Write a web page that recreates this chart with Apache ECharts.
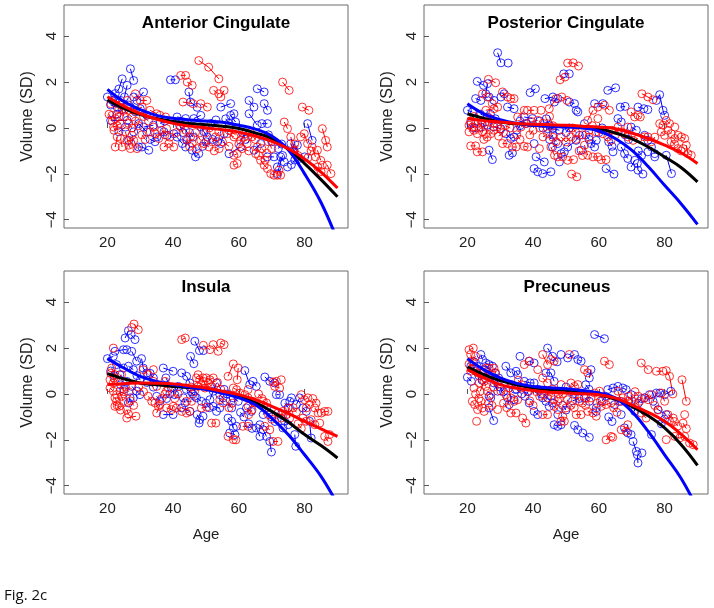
<!DOCTYPE html>
<html>
<head>
<meta charset="utf-8">
<title>Fig. 2c</title>
<script src="https://cdn.jsdelivr.net/npm/echarts@6/dist/echarts.min.js"></script>
<style>
  html, body { margin: 0; padding: 0; background: #fff; }
  #main { width: 714px; height: 608px; }
</style>
</head>
<body>
<div id="main"></div>
<script>
// panel titles, ticks
const panelTitles = ['Anterior Cingulate', 'Posterior Cingulate', 'Insula', 'Precuneus'];
const ageTicks = [20, 40, 60, 80];
const volTicks = [-4, -2, 0, 2, 4];

const fitAges = [20, 25, 30, 35, 40, 45, 50, 55, 60, 65, 70, 75, 80, 85, 90];

// --- Anterior Cingulate ---
const acFitBlack = [1.22, 0.85, 0.58, 0.40, 0.28, 0.20, 0.14, 0.08, -0.02, -0.22, -0.45, -0.92, -1.55, -2.25, -3.0];
const acFitRed = [1.36, 0.95, 0.62, 0.38, 0.20, 0.08, 0.0, -0.08, -0.18, -0.35, -0.58, -0.90, -1.35, -1.92, -2.62];
const acFitBlue = [1.68, 1.15, 0.80, 0.55, 0.42, 0.35, 0.30, 0.25, 0.12, -0.05, -0.35, -0.95, -2.0, -3.25, -4.9];
const acBlue = [
  [[20,1.35]], [[22.4,1.5],[23.5,1.7],[24.5,2.14]], [[27,2.58],[28,2.07]], [[26,1.86],[25.2,1.35]],
  [[28,1.35],[29,1.2],[31,1.57]], [[30,0.84],[32,0.55]], [[21,0.33],[26,0.33]], [[26.5,-0.54]],
  [[29.5,-0.83],[30.5,-0.83],[32.6,-0.97]], [[31,0.04],[34,0.12]], [[23.5,-0.17],[25.5,0.04]],
  [[28,-0.17],[29.5,0.19],[32,-0.17]], [[35.1,-0.39],[37.2,-0.17],[38.2,-0.32]], [[39.2,2.1],[40.7,2.1]],
  [[44.8,1.57],[45.3,1.13],[47.3,0.9]], [[41.2,0.48],[43.8,0.41]], [[46.3,0.41],[48.4,0.55]],
  [[40.2,-0.25],[41.2,-0.4],[42.8,-0.68]], [[43.8,-0.83],[44.3,-0.54]], [[45.8,-0.97],[46.8,-1.26],[47.8,-1.12]],
  [[48.4,0.04],[49.4,-0.17],[50.4,-0.39]], [[54.5,0.91],[57.5,1.06]], [[58.5,0.62],[57.5,0.55],[59,0.26]],
  [[55.5,-0.25],[54.5,-0.68]], [[57,-1.12],[60.5,-0.83]], [[63.1,1.2],[64.6,0.91]], [[65.6,1.71],[67.7,1.57]],
  [[67.7,1.06],[68.7,0.77]], [[63.1,0.62],[65.6,0.12]], [[67,0.19],[68.7,0.19]], [[64.6,-0.97],[66.6,-0.68]],
  [[68.7,-1.26],[70.7,-1.26]], [[71.7,-1.7],[72.7,-1.26],[73.8,-1.48]], [[71.7,-1.99],[73.3,-1.2]],
  [[75.8,-0.68],[76.8,-1.04],[77.8,-0.75]], [[80.9,0.19],[82.3,-0.54]], [[78.3,-1.33],[80,-1.26]], [[74.8,-1.7]],
  [[51.5,0.2],[53,0.35]], [[52,-0.5],[53.5,-0.6]], [[21,1.0],[23,0.9]], [[24,1.2],[26.5,1.0]],
  [[21.5,1.2],[22.5,1.1]], [[23,0.6],[24.5,0.8]], [[27,0.9],[28.5,0.7]], [[33,-0.5],[34.5,-0.6]], [[36,0.2],[37.5,0.3]],
  [[42,0.1],[43,-0.2]], [[45,-0.2],[46,-0.4]], [[49,-0.8],[50,-0.6]], [[56,0.4],[57,0.2]], [[61,-0.2],[62,-0.5]],
  [[69,-0.3],[70,-0.6]], [[72,-0.9],[73,-0.7]], [[76,-1.6],[77,-1.4]]
];
const acRed = [
  [[21,1.06],[22.4,1.2]], [[21.4,0.55],[22.4,0.41],[23.5,0.48]], [[21.9,0.04],[24,0.19]], [[23,-0.39],[22.4,-0.83]],
  [[24.5,-0.83],[24,-0.46]], [[25.5,-0.17],[26.5,-0.75],[27,-0.9]], [[26,-0.54],[28,-0.54]], [[29,-0.9],[27.5,-0.32]],
  [[28.5,1.49],[30,1.2],[32,1.2]], [[28,0.77],[30.6,0.91]], [[27.5,0.48],[25,0.77]], [[23.5,0.84],[26,1.2]],
  [[33,0.77],[35,0.62]], [[36,0.55],[37.7,0.48]], [[34.6,-0.25],[35.6,-0.46]], [[37.2,-0.83],[38.7,-0.68],[40.2,-0.83]],
  [[33,-0.17],[34,0.04]], [[38,-0.03]], [[42.3,2.29],[43.8,2.29]], [[44.3,2.0],[45.8,1.86]], [[43,1.13],[46,1.06]],
  [[48.4,1.06],[50.4,0.91]], [[47.8,2.94],[50.8,2.65],[53.9,2.14]], [[52.3,1.64],[53.9,1.49]], [[55.5,1.64],[54.5,1.35]],
  [[42.3,0.04],[43.8,-0.1],[45.3,-0.39]], [[46.8,-0.2],[48.4,-0.54]], [[49.4,-0.68],[50.9,-0.83]], [[45.8,-0.68],[47.3,-0.9]],
  [[51.9,-0.61],[52.9,-0.39],[53.9,-0.17]], [[56.5,-0.25],[58.5,-0.39]], [[59.5,-1.12],[58.5,-1.19]], [[59.5,-1.55],[58.5,-1.62]],
  [[60.5,-0.54],[62,-0.25]], [[62.5,-0.68],[64,-0.39]], [[65.6,-0.83],[65.1,-1.12]], [[66.6,-1.41],[67.7,-1.62],[68.7,-1.77]],
  [[69.7,-1.99],[70.7,-2.06]], [[71.7,-2.06],[72.7,-2.06],[72.2,-1.84]], [[73.3,2.0],[75.3,1.64]], [[73.8,0.26],[74.8,-0.03]],
  [[75.8,-0.39],[76.8,-0.97]], [[78.8,-0.39],[79.9,-0.25],[80.9,-0.68]], [[79.3,0.91],[81.3,0.77]], [[82.3,-0.83],[83.3,-1.26]],
  [[83.9,-0.97],[84.9,-1.41]], [[85.4,-0.03],[86.4,-0.54],[86.9,-0.83]], [[86.9,-1.62],[88,-1.99]], [[85.4,-1.62]],
  [[55,-0.6],[57,-0.8]], [[61,-0.9],[63,-1.0]], [[66,-1.2],[68,-1.4]],
  [[20.5,0.6],[21.5,0.3]], [[22,-0.1],[23,0.1]], [[24,1.0],[25,0.5]], [[26.5,0.2],[27.5,0.0]], [[28.5,0.3],[29.5,0.1]],
  [[30.5,-0.3],[31.5,-0.5]], [[31,0.5],[32.5,0.3]], [[36.5,-0.1],[37.5,-0.3]], [[39,-0.4],[41,-0.2]], [[44,-0.5],[45,-0.8]],
  [[50,-0.2],[51,0.0]], [[52.5,-1.0],[54,-0.9]], [[57,-0.1],[59,-0.3]], [[60,-0.7],[61.5,-0.4]], [[63.5,-0.2],[65,-0.5]],
  [[67,-0.9],[68.5,-1.1]], [[69,-0.6],[70,-0.9]], [[77,-0.7],[78,-1.2]], [[81,-1.3],[82,-1.0]], [[84,-1.7],[85,-1.9]]
];

// --- Posterior Cingulate ---
const pcFitBlack = [0.62, 0.42, 0.26, 0.18, 0.12, 0.09, 0.07, 0.03, -0.03, -0.22, -0.46, -0.83, -1.26, -1.72, -2.35];
const pcFitRed = [0.41, 0.32, 0.26, 0.20, 0.16, 0.14, 0.12, 0.08, 0.04, -0.03, -0.22, -0.46, -0.75, -1.08, -1.55];
const pcFitBlue = [1.06, 0.62, 0.36, 0.20, 0.12, 0.07, 0.04, 0.0, -0.13, -0.46, -0.97, -1.68, -2.5, -3.3, -4.2];
const pcBlue = [
  [[29.2,3.28],[30.2,2.84]], [[32.4,2.83]], [[23,2.03],[24.9,1.86]], [[26.1,1.93],[25.6,1.49]], [[22.5,1.28],[24.1,1.2]],
  [[26.6,1.35],[28.1,1.2]], [[30.2,1.35],[31.2,1.49]], [[32.2,0.91],[34.2,0.84]], [[20,0.77],[21.5,0.7]], [[24,0.6],[26.1,0.48]],
  [[26.6,-0.97],[27.6,-1.38]], [[32.7,-1.19],[33.7,-1.09]], [[24.1,0.04],[26.1,0.12]], [[28,0.05],[30.2,-0.03]],
  [[31.7,-0.25],[33.2,-0.46],[34.2,-0.39]], [[39.1,1.54],[40.7,1.71]], [[37.3,0.48],[39.8,0.41]], [[40.3,-0.68]],
  [[40.3,-1.77],[41.4,-1.91]], [[42.9,-1.99],[45.4,-1.91]], [[40.9,-1.26],[43.4,-1.48]], [[43.6,1.28],[46,1.35]],
  [[46.5,1.13],[47.5,1.28]], [[49.3,2.36],[51,2.36]], [[51,1.13],[52.6,1.06]], [[53.1,0.77],[53.6,0.7]],
  [[44.4,-0.03],[46,-0.03],[48,-0.1]], [[47.5,-0.68],[45.9,-0.83]], [[48.5,-1.12],[49.5,-1.04]], [[48,-1.48]],
  [[50.5,-0.83],[53.1,-0.54],[54.1,-0.32]], [[55.6,0.19]], [[54.6,-0.97]], [[58.7,1.06],[61.2,1.06]], [[62.7,1.64],[65.1,1.75]],
  [[59.2,-0.54],[57.6,-0.68],[58.7,-0.83]], [[62.2,-1.77],[64.6,-2.01]], [[64.3,-1.04]], [[65.8,0.41],[66.8,0.26]],
  [[66.5,0.91],[68,0.94]], [[66.8,-0.83],[67.8,-1.12],[68.8,-1.33]], [[69.8,-1.7],[70.9,-1.41]],
  [[71.7,-1.55],[71.9,-1.84],[73.4,-2.01]], [[71.9,0.91],[73.7,0.84]], [[74.9,0.8]], [[69.8,0.04],[71.4,-0.1]],
  [[73.9,-0.32],[74.9,-0.54]], [[76,-0.83],[77,-1.12]], [[74.9,-1.04]], [[77.5,1.2],[78.5,1.45],[79.5,0.77],[80,0.55]],
  [[80.5,-1.19],[82.1,-1.99]], [[77,-1.26]], [[36,0.3],[38,0.2]], [[44,0.4],[45,0.1]],
  [[21,0.2],[22,0.0]], [[27,0.6],[28.5,0.4]], [[35,-0.1],[36,0.1]], [[42,0.3],[43,0.0]], [[45,-0.5],[46,-0.3]],
  [[50,-0.2],[51,0.0]], [[56,-0.3],[57,-0.5]], [[60,-0.2],[61,0.0]], [[63,-0.6],[64,-0.8]], [[68,-0.3],[69,-0.5]],
  [[72,-1.0],[73,-1.2]]
];
const pcRed = [
  [[20.5,0.12],[21.5,0.04]], [[22,-0.1],[23,-0.25]], [[24.1,0.33],[24.6,-0.17]], [[25.6,-0.25],[26.6,0.26]],
  [[27.1,-0.25],[28.1,-0.1]], [[20.5,-0.17],[22.5,0.2]], [[29,0.05],[30,-0.05]], [[21,-0.78],[22.5,-0.78]],
  [[23,-1.04],[24.6,-1.04]], [[26.4,2.12],[28.6,1.97]], [[24.6,1.49],[26.1,1.35]], [[27.6,1.06],[29.2,0.91]],
  [[25.6,0.77],[28.1,0.84]], [[30.7,1.57],[32.2,1.35]], [[33.2,1.28],[34.2,1.28]], [[30.7,-0.68],[32.2,-0.68]],
  [[33.7,-0.83],[34.8,-0.83]], [[37.3,-0.8],[38.3,-0.83]], [[35.3,0.48],[37.3,0.77]], [[38.3,0.77],[40.3,0.77]],
  [[42.4,0.77]], [[36.3,0.04],[37.8,0.19]], [[39.5,0.28],[41.4,0.33]], [[41.9,-0.9]], [[43,-0.39],[44.4,-0.25]],
  [[44.9,0.84],[47,1.28]], [[48.7,1.35],[50.3,1.2]], [[48.2,2.1],[49.7,2.22]], [[50.5,2.83],[52.2,2.84],[53.8,2.7]],
  [[45.4,-0.83],[46.5,-1.19]], [[47.5,-1.26],[49,-1.26]], [[50.5,-1.41],[52.3,-1.38]], [[48.5,-0.39],[50,-0.61],[51.5,-0.39]],
  [[51.7,-2.01],[53.3,-2.13]], [[55.6,-0.75],[56.6,-1.19]], [[58.2,-1.26],[59.7,-1.26]], [[60.7,-1.38],[62.2,-1.38]],
  [[56.6,0.33],[58.2,0.77]], [[59.7,0.41]], [[59.7,0.91],[61.7,0.99],[63.2,0.77]], [[59.2,-0.17],[61.2,-0.25]],
  [[62.7,-0.39],[63.7,-0.54]], [[65.8,0.04],[66.8,-0.17]], [[67.8,-0.25],[68.8,0.04]], [[69.8,0.7],[70.9,0.48]],
  [[71.9,0.55],[72.6,0.48]], [[68.8,-0.39],[70.4,-0.54],[71.9,-0.46]], [[73.1,1.49],[74.9,1.35],[76.5,1.23]],
  [[73.9,-0.39],[74.9,-0.39]], [[78.5,0.19],[79.5,0.12]], [[80.5,0.33],[81.5,0.19]], [[79,-0.17],[80,-0.32]],
  [[81,-0.1],[82,-0.25]], [[83.1,-0.46],[84.1,-0.32]], [[85.1,-0.39],[86.1,-0.46]], [[86.6,-0.75],[87.1,-1.12],[88.1,-1.19]],
  [[85.6,-0.9]], [[83.1,0.04]], [[53,-0.5],[55,-0.3]], [[57,-0.4]], [[45,0.5],[46,0.1]],
  [[21,0.3],[22,0.5]], [[23.5,0.0],[24.5,0.2]], [[25,-0.5],[26,-0.4]], [[27,0.4],[28,0.2]], [[29.5,-0.35],[31,-0.2]],
  [[31.5,0.1],[33,0.0]], [[35,-0.3],[36,-0.5]], [[39,-0.3],[40,-0.1]], [[42,0.0],[43,0.2]], [[46,-0.4],[47,-0.6]],
  [[52,0.0],[53,-0.2]], [[54,-1.0],[55,-1.2]], [[57,-0.1],[58,0.1]], [[64,-0.1],[65,-0.3]], [[76,-0.6],[77,-0.4]],
  [[82,-0.6],[83,-0.7]], [[84,-0.9],[85,-1.0]]
];

// --- Insula ---
const insFitBlack = [0.89, 0.66, 0.48, 0.40, 0.33, 0.28, 0.23, 0.10, -0.10, -0.38, -0.76, -1.22, -1.77, -2.25, -2.79];
const insFitRed = [0.41, 0.45, 0.48, 0.47, 0.44, 0.36, 0.26, 0.12, -0.03, -0.25, -0.54, -0.85, -1.19, -1.52, -1.85];
const insFitBlue = [1.54, 1.13, 0.77, 0.55, 0.41, 0.30, 0.19, 0.03, -0.17, -0.47, -1.05, -1.77, -2.65, -3.59, -4.8];
const insBlue = [
  [[20,1.54],[21.8,1.64]], [[22.3,1.86],[24.9,1.93],[25.9,1.93]], [[25.4,2.44],[26.4,2.76]], [[27.2,2.59],[28.4,2.37]],
  [[27.4,1.86],[28.9,1.43]], [[30.4,1.54],[30.9,1.13],[32,0.92]], [[22.8,1.28],[24.9,1.13]], [[26.4,1.21],[27.9,1.06]],
  [[23.8,0.84],[25.9,0.55]], [[27.4,0.33],[28.9,0.12],[29.9,-0.03]], [[26.9,-0.17],[26.4,-0.39]], [[27.9,-0.17]],
  [[37,1.13],[40,0.99]], [[37.8,0.7],[39.5,0.26]], [[40.5,-0.03],[41.6,0.33]], [[37,-0.9],[40,-0.9]],
  [[42.6,0.92],[44.1,0.77],[45.1,0.48]], [[43.1,-0.17],[43.6,-0.39]], [[42.6,-0.61],[45.1,-0.76]], [[46.6,2.3],[48,1.89]],
  [[45.3,1.64],[46.3,1.32]], [[49.2,1.89]], [[47.3,-0.9],[48.1,-1.12],[47.9,-1.27]], [[49.1,-0.97]], [[47.1,-0.17],[48.6,-0.32]],
  [[51.2,-0.25],[52.2,0.12],[53.2,0.48]], [[54.2,-0.03],[55.2,-0.17]], [[52.2,-0.54],[54.2,-0.61]], [[53.2,-0.76]],
  [[56.7,-1.05],[57.8,-1.19],[58.3,-1.48]], [[58.8,-1.77],[57.2,-1.7]], [[59.3,-1.41]], [[56.2,-0.32],[57.8,-0.61]],
  [[58.3,-0.17],[59.8,-0.32]], [[61.8,1.02],[63.3,0.41]], [[64.3,0.55],[65.3,0.33]], [[62.3,-0.61],[63.8,-0.76]],
  [[66.4,-1.34],[67.4,-1.56],[68.4,-1.85]], [[66.4,-1.85],[65.3,-1.48]], [[69.4,-2.07],[69.9,-2.53]], [[67.4,-0.9],[68.4,-0.61]],
  [[67.9,0.74],[69.4,0.55],[70.9,0.48]], [[71.4,-0.03],[72.4,-0.03]], [[72.9,-0.9],[73.9,-1.19],[75,-1.34]], [[73.4,-1.48]],
  [[75.5,-0.32],[76,-0.17]], [[77,-1.77],[77.3,-2.28]], [[77.5,-0.46],[78.5,-0.17]], [[79.5,-0.61],[80.5,-0.76]],
  [[82,-1.92],[81.5,-1.19]], [[32,0.5],[34,0.3]], [[35,-0.1],[36,-0.3]], [[44,0.2],[46,0.0]], [[50,-0.4],[51,-0.6]],
  [[21,1.0],[22,0.8]], [[24,0.4],[25,0.2]], [[29,0.8],[30,0.6]], [[33,0.9],[34,0.7]], [[38,-0.2],[39,0.0]],
  [[45.5,0.1],[46.5,-0.1]], [[55.5,0.2],[56.5,0.0]], [[60.5,-0.8],[61.5,-1.0]], [[63,-1.3],[64,-1.5]], [[70,-1.0],[71,-1.2]],
  [[74,-0.4],[75,-0.6]]
];
const insRed = [
  [[21.8,2.0]], [[21.3,1.13],[22.3,0.84]], [[20.8,0.62],[21.8,0.48]], [[20.8,0.26],[21.8,0.12]],
  [[22.3,-0.17],[22.8,-0.32],[22.3,-0.54]], [[23.8,0.12],[24.3,-0.1],[24.8,-0.32]], [[23.3,0.55],[24.3,0.84]],
  [[25.9,-0.68],[26.4,-0.87]], [[25.9,-1.05],[28.7,-0.97]], [[23.6,-0.54]], [[22.8,-0.03],[25,0.1]], [[28.1,3.05],[29.4,2.8]],
  [[27.4,2.9]], [[30.9,1.06],[32.4,0.84]], [[34,1.06]], [[34,0.55],[35,0.33]], [[32.4,-0.1],[33.5,-0.32]],
  [[34.5,-0.39],[35.5,-0.54]], [[35,-0.83],[36,-0.46]], [[37.5,0.55],[38.5,0.26]], [[38,0.12]], [[38,-0.61],[39.5,-0.68],[40,-0.54]],
  [[42.6,2.37],[43.7,2.44]], [[49.2,2.12],[51.2,1.93]], [[52.2,2.15],[53.7,1.86]], [[54.5,2.22],[55.5,2.15]],
  [[41,-0.61],[42.6,-0.76]], [[44.1,-0.83],[45.1,-0.76]], [[44.1,-0.32],[45.6,-0.32]], [[47.1,0.7],[48.1,0.62],[49.1,0.7]],
  [[50.1,0.7],[51.2,0.62],[52.2,0.7]], [[47.6,0.33],[48.6,0.41]], [[49.7,0.26],[50.7,0.48],[51.7,0.33]], [[47.6,0.84],[49.2,0.55]],
  [[51.7,-1.27],[53,-1.27]], [[50.2,-0.58],[48.6,-0.61]], [[54.2,-0.25],[55.2,-0.39]], [[56.7,0.77],[58.3,1.31]],
  [[59.8,1.13],[59.5,0.62]], [[56.7,-1.85],[58.3,-1.99],[59.1,-2.0]], [[58.3,0.26],[59.3,0.19],[60.3,0.04]],
  [[61.8,-0.03],[62.8,-0.17]], [[62.8,0.19]], [[64.3,-0.32],[64.8,-0.39]], [[61.2,-1.41],[62.8,-1.41]], [[62.8,-0.54]],
  [[67.4,-0.32],[68.4,-0.39]], [[67.9,-1.41],[69.4,-1.56]], [[70.4,-2.07],[71.9,-2.07]], [[70.4,0.52],[71.4,0.55]],
  [[70.9,0.33],[72.4,0.26]], [[72.9,0.62]], [[71.9,-0.83],[72.9,-1.05]], [[73.4,-0.76],[74.5,-0.9]], [[75,-0.61],[75.5,-1.05]],
  [[79,-0.03],[80,-0.25],[81,-0.17]], [[80.5,-0.61],[81.5,-0.46]], [[83.1,-0.61],[84.1,-0.83]],
  [[85.1,-0.83],[86.1,-0.76],[87.1,-0.76]], [[79.5,-1.05],[80.5,-1.19]], [[82,-1.12],[83.1,-1.34]], [[84.6,-1.27]],
  [[86.1,-1.85],[87.1,-2.07]], [[87.6,-1.77]],
  [[21,0.9],[22,0.7]], [[23,-0.5],[24,-0.7]], [[25.5,0.3],[26.5,0.1]], [[27,-0.3],[28,-0.5]], [[29.5,0.3],[31,0.1]],
  [[36.5,-0.2],[37.5,0.0]], [[40.5,-0.2],[41.5,0.0]], [[45.5,0.3],[46.5,0.1]], [[53.5,0.5],[54.5,0.2]], [[57,-0.6],[58,-0.4]],
  [[63,-0.9],[64,-0.7]], [[66,0.0],[67,-0.2]], [[69,-0.9],[70,-1.1]], [[76.5,-0.6],[77.5,-0.8]], [[78,-1.3],[79,-1.5]],
  [[82.5,-0.2],[83.5,-0.4]]
];

// --- Precuneus ---
const preFitBlack = [1.18, 0.84, 0.58, 0.40, 0.26, 0.19, 0.15, 0.08, -0.03, -0.22, -0.54, -0.95, -1.48, -2.2, -3.11];
const preFitRed = [1.06, 0.70, 0.41, 0.25, 0.15, 0.08, 0.04, 0.01, -0.03, -0.18, -0.47, -0.80, -1.19, -1.75, -2.43];
const preFitBlue = [1.54, 1.06, 0.70, 0.46, 0.33, 0.27, 0.23, 0.15, 0.04, -0.17, -0.76, -1.63, -2.65, -3.67, -5.0];
const preBlue = [
  [[20,0.73],[21.2,0.55]], [[24.1,1.72],[24.6,1.5]], [[25.6,1.35],[26.6,1.28],[27.6,1.21]], [[25.1,1.06],[26.1,0.84]],
  [[27.1,0.7],[28.1,0.48],[29.2,0.12]], [[26.6,-0.1],[27.1,-0.17]], [[26.6,-0.61],[28,-1.16]], [[22,1.4],[23,1.2]],
  [[31.7,1.21],[33.2,0.92]], [[34.8,0.99],[35.3,0.84]], [[32.2,-0.17],[32.7,-0.46]], [[34.2,-0.25]], [[36,1.64]],
  [[37.3,0.55],[39.1,0.48],[40.3,0.48]], [[38.8,1.43],[40.3,1.35]], [[40.3,-0.76],[41.4,-0.9]], [[38.8,-0.39]],
  [[44.4,2.0],[45.9,1.64],[47.3,1.4]], [[48.5,1.72]], [[43.9,0.92],[45.4,0.92],[46.4,0.55]], [[42.9,-0.17],[43.9,-0.32]],
  [[44.9,-0.54],[45.9,-0.39]], [[46.4,-1.34],[47.5,-1.41],[48.5,-1.34]], [[47.5,-0.9]], [[45.4,-0.1]],
  [[50.5,1.57],[52.6,1.72]], [[53.6,1.5],[54.6,1.43]], [[52.6,-1.37],[53.6,-1.56]], [[55.1,-1.7],[57.1,-1.89]],
  [[55.6,-0.17],[57.1,-0.32]], [[57.6,1.06],[57.1,0.7]], [[58.7,2.59],[61.7,2.41]], [[59.2,-0.61],[59.2,-0.76]],
  [[62.7,0.19],[64.3,0.26],[65.8,0.33]], [[64.8,-0.46],[66.3,-0.32]], [[66.8,-0.9]], [[67.3,0.26],[68.3,0.19]],
  [[67.8,-1.48],[68.8,-1.7],[69.8,-1.77]], [[69.8,-0.03],[70.9,-0.76]], [[70.4,-2.07],[71.4,-2.5]], [[71.7,-2.65],[71.9,-3.01]],
  [[73.1,-2.57]], [[73.9,-0.17],[75.4,-0.03]], [[76.5,-0.32],[77.5,0.04],[78.5,0.04]], [[76,-1.77]], [[78,-0.68],[80.5,-0.9]],
  [[80,-0.03],[81.9,0.12]], [[30,0.3],[31,0.1]], [[35,0.2],[36.5,0.0]], [[50,0.3],[51.5,0.1]], [[52,-0.3],[54,-0.2]],
  [[21,1.2],[22.5,1.0]], [[23.5,0.8],[24.5,0.6]], [[28.5,0.9],[29.5,0.7]], [[33.5,0.4],[34.5,0.2]], [[37.5,-0.1],[38.5,0.1]],
  [[41.5,0.2],[42.5,0.0]], [[49,-0.5],[50,-0.7]], [[56,0.4],[57,0.2]], [[61,-0.3],[62,-0.1]], [[63,-1.0],[64,-1.2]],
  [[72,-0.4],[73,-0.2]], [[79,-1.3],[80,-1.1]]
];
const preRed = [
  [[20.5,1.93],[21.8,2.0]], [[21,1.72],[21.5,1.43],[22.5,1.64]], [[21,0.99],[22,1.13]], [[23.1,0.92],[23.6,0.48]], [[22,0.26]],
  [[21.5,-0.32],[22.2,-0.46],[23.1,-0.68]], [[22.8,-1.19]], [[24.1,-0.32],[24.6,-0.61]], [[23.9,0.12],[25.1,0.55],[25.6,0.33]],
  [[25.6,1.13],[26.6,1.13],[27.1,0.84]], [[28.1,1.13],[28.6,0.92]], [[26.1,0.12],[27.1,-0.03]], [[29.2,-0.68]], [[25.1,-0.76]],
  [[30.2,0.12],[31.7,-0.03]], [[32.7,0.26],[33.2,-0.17]], [[34.2,-0.32],[35.3,-0.25]], [[33.2,-0.83],[34.8,-0.83]],
  [[36.8,-1.05],[37.8,-1.27]], [[37.3,1.28],[38.8,1.43]], [[41.4,1.06]], [[36.3,0.26],[38.3,0.12]], [[42.9,1.72],[44.4,1.28]],
  [[45.4,1.5],[46.4,1.43]], [[42.9,0.7],[44.4,0.48]], [[43.4,-0.03],[44.4,-0.17]], [[46.4,-0.25],[47.5,-0.32]],
  [[42.9,-0.9],[44.4,-0.9]], [[46.4,-0.54],[47.5,-0.68]], [[48.5,0.41]], [[49,-0.97],[49.5,-1.19],[48.5,-1.19]],
  [[50,-0.61],[50.5,-0.25]], [[51,1.72]], [[51.5,0.48],[52.6,0.33],[53.6,0.41]], [[52.6,-0.03],[54.1,-0.32]],
  [[53.1,-0.9],[54.6,-0.9]], [[55.6,1.06],[56.6,0.92]], [[56.1,-0.17],[57.6,-0.17]], [[56.6,-0.76],[58.2,-0.83],[59.2,-0.97]],
  [[58.7,0.04],[60.2,0.12]], [[61.7,1.43],[63.2,1.28]], [[60.7,-0.54],[62.2,-0.46],[63.7,-0.39]],
  [[62.2,-2.0],[63.7,-1.85],[64.2,-1.89]], [[65.8,0.12],[66.8,-0.32]], [[66.8,-1.56],[68.3,-1.63],[68.8,-1.34]],
  [[67.3,-0.17],[68.8,-0.32]], [[72.9,1.35],[75,1.06]], [[70.9,-0.46],[72.4,-0.32]], [[73.9,-0.17],[75,-0.25],[76,-0.03]],
  [[72.9,-0.83],[74.4,-1.05]], [[77.5,0.99],[79.5,0.99]], [[80.5,1.02],[81.5,0.77],[82.5,0.0]], [[79,0.04],[80,-0.32]],
  [[81,-0.9],[82.6,-1.05]], [[81.5,-1.19]], [[80.5,-1.99]], [[83.1,-1.85],[84.6,-1.92],[86.1,-1.85]],
  [[86.6,-1.51],[85.6,-1.27]], [[86.1,-0.9]], [[85.3,0.62],[86.6,-0.32]], [[87.6,-2.14],[88.7,-2.21]],
  [[20.5,1.3],[21.5,1.1]], [[22.5,0.0],[23.5,-0.2]], [[24.5,0.9],[25.5,0.7]], [[26.5,-0.4],[27.5,-0.5]], [[28,0.3],[29,0.5]],
  [[31,-0.4],[32,-0.6]], [[35.5,0.6],[36.5,0.4]], [[39,-0.3],[40,-0.5]], [[41,0.1],[42,-0.1]], [[45,0.1],[46,0.2]],
  [[48,-0.2],[49,0.0]], [[51.5,-0.5],[52.5,-0.6]], [[55,-0.4],[56,-0.5]], [[59.5,-0.4],[60.5,-0.3]], [[64.5,-0.6],[65.5,-0.8]],
  [[69,-0.1],[70,-0.3]], [[71,0.1],[72,-0.1]], [[77,-0.5],[78,-0.7]], [[83,-1.2],[84,-1.4]]
];

const RED = '#ff0000';
const BLUE = '#0000ff';

const panels = [
  { blue: acBlue, red: acRed, fit: [acFitBlack, acFitBlue, acFitRed] },
  { blue: pcBlue, red: pcRed, fit: [pcFitBlack, pcFitBlue, pcFitRed] },
  { blue: insBlue, red: insRed, fit: [insFitBlack, insFitBlue, insFitRed] },
  { blue: preBlue, red: preRed, fit: [preFitBlack, preFitBlue, preFitRed] }
];

// plot boxes in pixels, R-style layout
const boxes = [
  { left: 64, top: 5 }, { left: 424, top: 5 },
  { left: 64, top: 271 }, { left: 424, top: 271 }
];
const titlePos = [[216, 23], [566, 23], [206, 287], [567, 287]];

const chart = echarts.init(document.getElementById('main'), null, { renderer: 'canvas' });

// R prints a real minus sign
const minus = v => String(v).replace('-', '\u2212');

const grids = [], xAxes = [], yAxes = [], series = [];

boxes.forEach((b, i) => {
  grids.push({
    left: b.left, top: b.top, width: 284, height: 223,
    show: true, borderColor: '#6a6a6a', borderWidth: 1, backgroundColor: 'transparent'
  });
  xAxes.push({
    gridIndex: i, type: 'value', min: 6.8, max: 93.2,
    name: i >= 2 ? 'Age' : '', nameLocation: 'middle', nameGap: 33,
    nameTextStyle: { fontSize: 15, color: '#222', fontFamily: 'Liberation Sans' },
    axisLine: { show: false },
    axisTick: { inside: true, length: 5, customValues: ageTicks, lineStyle: { color: '#555' } },
    axisLabel: { customValues: ageTicks, fontSize: 15, color: '#222', margin: 7, fontFamily: 'Liberation Sans' },
    splitLine: { show: false }
  });
  yAxes.push({
    gridIndex: i, type: 'value', min: -4.36, max: 5.36,
    name: 'Volume (SD)', nameLocation: 'middle', nameGap: 28, nameRotate: 90,
    nameTextStyle: { fontSize: 16, color: '#222', fontFamily: 'Liberation Sans' },
    axisLine: { show: false },
    axisTick: { inside: true, length: 5, customValues: volTicks, lineStyle: { color: '#555' } },
    axisLabel: { customValues: volTicks, rotate: 90, fontSize: 15, color: '#222', margin: 5,
      fontFamily: 'Liberation Sans', formatter: minus },
    splitLine: { show: false }
  });

  const p = panels[i];
  [[p.blue, BLUE], [p.red, RED]].forEach(([subjects, col]) => {
    // connecting lines of repeated scans
    series.push({
      type: 'lines', coordinateSystem: 'cartesian2d', xAxisIndex: i, yAxisIndex: i,
      polyline: true, silent: true,
      lineStyle: { color: col, width: 1, opacity: 1 },
      data: subjects.filter(s => s.length > 1).map(s => ({ coords: s }))
    });
    series.push({
      type: 'scatter', xAxisIndex: i, yAxisIndex: i, symbol: 'circle', symbolSize: 8,
      itemStyle: { color: 'rgba(0,0,0,0)', borderColor: col, borderWidth: 1 },
      silent: true,
      data: [].concat(...subjects)
    });
  });

  // fitted curves: black, blue, red
  ['#000000', BLUE, RED].forEach((col, k) => {
    series.push({
      type: 'line', xAxisIndex: i, yAxisIndex: i, smooth: 0.4, showSymbol: false, clip: true,
      lineStyle: { color: col, width: 3 },
      data: fitAges.map((a, j) => [a, p.fit[k][j]]),
      z: 5
    });
  });
});

const graphics = panelTitles.map((t, i) => ({
  type: 'text', x: titlePos[i][0], y: titlePos[i][1],
  style: { text: t, font: 'bold 17px "Liberation Sans", Arial, sans-serif', fill: '#000', align: 'center', verticalAlign: 'middle' }
}));
graphics.push({
  type: 'text', x: 4, y: 596,
  style: { text: 'Fig. 2c', font: '15px "Open Sans", sans-serif', fill: '#111', align: 'left', verticalAlign: 'middle' }
});

chart.setOption({
  animation: false,
  backgroundColor: '#fff',
  grid: grids,
  xAxis: xAxes,
  yAxis: yAxes,
  series: series,
  graphic: graphics
});
</script>
</body>
</html>
